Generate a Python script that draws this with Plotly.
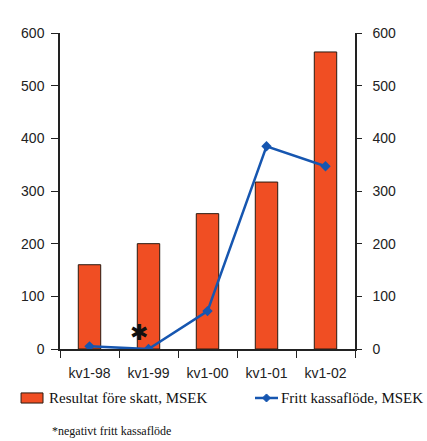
import plotly.graph_objects as go

# Quarterly figures (MSEK)
quarters = ["kv1-98", "kv1-99", "kv1-00", "kv1-01", "kv1-02"]
result_before_tax = [160, 200, 257, 317, 564]
free_cash_flow = [5, 0, 72, 385, 347]

tick_vals = [0, 100, 200, 300, 400, 500, 600]

BAR_COLOR = "#f04e23"
BAR_EDGE = "#2a1a10"
LINE_COLOR = "#1656b0"
SERIF = "Liberation Serif, Times New Roman, serif"

fig = go.Figure()

fig.add_trace(go.Bar(
    x=quarters, y=result_before_tax,
    name="Resultat före skatt, MSEK",
    marker=dict(color=BAR_COLOR, line=dict(color=BAR_EDGE, width=1)),
    width=0.38,
    yaxis="y",
))

fig.add_trace(go.Scatter(
    x=quarters, y=free_cash_flow,
    name="Fritt kassaflöde, MSEK",
    mode="lines+markers",
    line=dict(color=LINE_COLOR, width=2.5),
    marker=dict(symbol="diamond", size=8, color=LINE_COLOR),
    yaxis="y2",
))

axis_font = dict(family="Liberation Sans, Arial, sans-serif", size=14, color="#222222")

fig.update_layout(
    width=427, height=441,
    margin=dict(l=60, r=72, t=33, b=92),
    plot_bgcolor="white", paper_bgcolor="white",
    showlegend=False,
    xaxis=dict(
        type="category", showline=True, linecolor="#222222", linewidth=1.5,
        ticks="outside", tickson="boundaries", ticklen=7, tickcolor="#222222",
        tickfont=axis_font, showgrid=False, zeroline=False,
        ticklabelstandoff=10, automargin=False,
    ),
    yaxis=dict(
        range=[0, 600], tickvals=tick_vals, showline=True, linecolor="#222222",
        linewidth=1.5, ticks="outside", ticklen=7, tickcolor="#222222",
        tickfont=axis_font, showgrid=False, zeroline=False, ticklabelstandoff=4,
        automargin=False,
    ),
    yaxis2=dict(
        range=[0, 600], tickvals=tick_vals, overlaying="y", side="right",
        showline=True, linecolor="#222222", linewidth=1.5, ticks="outside",
        ticklen=5, tickcolor="#222222", tickfont=axis_font, showgrid=False,
        zeroline=False, ticklabelstandoff=8, automargin=False,
    ),
)

# Legend drawn below the plot: swatch for bars, line-with-diamond for cash flow
legend_y = -0.155
fig.add_shape(type="rect", xref="paper", yref="paper",
              x0=-0.132, x1=-0.0576, y0=-0.171, y1=-0.139,
              fillcolor=BAR_COLOR, line=dict(color=BAR_EDGE, width=1))
fig.add_annotation(x=-0.045, y=legend_y, xref="paper", yref="paper",
                   xanchor="left", yanchor="middle", showarrow=False,
                   text="Resultat före skatt, MSEK",
                   font=dict(family=SERIF, size=15, color="#111111"))

fig.add_shape(type="line", xref="paper", yref="paper",
              x0=0.661, x1=0.739, y0=legend_y, y1=legend_y,
              line=dict(color=LINE_COLOR, width=2.5))
dcx, ddx, ddy = 0.700, 0.0136, 0.0127
fig.add_shape(type="path", xref="paper", yref="paper",
              path=(f"M {dcx},{legend_y + ddy} L {dcx + ddx},{legend_y} "
                    f"L {dcx},{legend_y - ddy} L {dcx - ddx},{legend_y} Z"),
              fillcolor=LINE_COLOR, line=dict(color=LINE_COLOR, width=1))
fig.add_annotation(x=0.742, y=legend_y, xref="paper", yref="paper",
                   xanchor="left", yanchor="middle", showarrow=False,
                   text="Fritt kassaflöde, MSEK",
                   font=dict(family=SERIF, size=15, color="#111111"))

# Marker on the quarter with negative free cash flow
fig.add_annotation(
    x="kv1-99", y=32, xref="x", yref="y", xshift=-10,
    text="✱", showarrow=False,
    font=dict(family="DejaVu Sans", size=22, color="#111111"),
)

fig.add_annotation(
    x=-0.034, y=-0.259, xref="paper", yref="paper", showarrow=False,
    xanchor="left", yanchor="middle",
    text="*negativt fritt kassaflöde",
    font=dict(family=SERIF, size=12, color="#111111"),
)

fig.write_html("out.html")
